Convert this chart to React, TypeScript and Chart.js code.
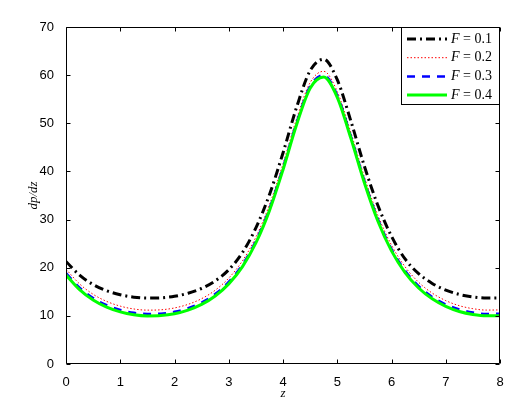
import React, { useEffect, useRef } from "react";
import { Chart, registerables } from "chart.js";
Chart.register(...registerables);

// z positions
const zValues = [0, 0.25, 0.5, 0.75, 1, 1.25, 1.5, 1.75, 2, 2.25, 2.5, 2.75, 3, 3.25, 3.5, 3.75, 4, 4.25, 4.5, 4.75, 5, 5.25, 5.5, 5.75, 6, 6.25, 6.5, 6.75, 7, 7.25, 7.5, 7.75, 8];

// dp/dz for each F
const fLabels = ["0.1", "0.2", "0.3", "0.4"];
const f01 = [21.3, 18.46, 16.51, 15.21, 14.38, 13.88, 13.69, 13.75, 14.06, 14.69, 15.71, 17.26, 19.57, 23.09, 28.27, 35.17, 43.84, 53.31, 60.94, 63.3, 59.05, 50.5, 41.09, 32.91, 26.54, 21.82, 18.77, 16.74, 15.36, 14.45, 13.93, 13.7, 13.72];
const f02 = [19.7, 16.64, 14.48, 13.0, 12.02, 11.43, 11.19, 11.26, 11.64, 12.39, 13.57, 15.32, 17.84, 21.39, 26.35, 33.06, 41.56, 50.9, 58.46, 60.8, 56.59, 48.13, 38.85, 30.85, 24.69, 20.19, 16.98, 14.73, 13.17, 12.11, 11.49, 11.2, 11.23];
const f03 = [18.9, 15.84, 13.68, 12.2, 11.22, 10.63, 10.39, 10.46, 10.84, 11.59, 12.77, 14.52, 17.04, 20.59, 25.55, 32.26, 40.76, 50.1, 57.66, 60.0, 55.79, 47.33, 38.05, 30.05, 23.89, 19.39, 16.18, 13.93, 12.37, 11.31, 10.69, 10.4, 10.43];
const f04 = [18.5, 15.44, 13.28, 11.8, 10.82, 10.23, 9.99, 10.06, 10.44, 11.19, 12.37, 14.12, 16.64, 20.19, 25.15, 31.86, 40.36, 49.7, 57.26, 59.6, 55.39, 46.93, 37.65, 29.65, 23.49, 18.99, 15.78, 13.53, 11.97, 10.91, 10.29, 10.0, 10.03];

const xTicks = [0, 1, 2, 3, 4, 5, 6, 7, 8];
const yTicks = [0, 10, 20, 30, 40, 50, 60, 70];

const seriesValues = [f01, f02, f03, f04];
const seriesStyles = [
  { color: "#000000", width: 3, dash: [9, 4, 2, 4] },
  { color: "#ff0000", width: 1, dash: [1.5, 2] },
  { color: "#0000ff", width: 2.5, dash: [8, 7] },
  { color: "#00ff00", width: 3, dash: [] as number[] },
];

const framePlugin = {
  id: "frame",
  afterDatasetsDraw(chart: any) {
    const { ctx, chartArea: a, scales } = chart;
    ctx.save();
    ctx.strokeStyle = "#000";
    ctx.lineWidth = 1;
    ctx.setLineDash([]);
    const L = Math.round(a.left) + 0.5;
    const R = Math.round(a.right) - 0.5;
    const T = Math.round(a.top) + 0.5;
    const B = Math.round(a.bottom) - 0.5;
    ctx.beginPath();
    ctx.rect(L, T, R - L, B - T);
    const len = 4;
    xTicks.forEach((v) => {
      const px = Math.round(scales.x.getPixelForValue(v)) + 0.5;
      ctx.moveTo(px, B);
      ctx.lineTo(px, B - len);
      ctx.moveTo(px, T);
      ctx.lineTo(px, T + len);
    });
    yTicks.forEach((v) => {
      const py = Math.round(scales.y.getPixelForValue(v)) + 0.5;
      ctx.moveTo(L, py);
      ctx.lineTo(L + len, py);
      ctx.moveTo(R, py);
      ctx.lineTo(R - len, py);
    });
    ctx.stroke();
    ctx.restore();
  },
};

const legendPlugin = {
  id: "matlabLegend",
  afterDraw(chart: any) {
    const { ctx, chartArea: a } = chart;
    const boxW = 99;
    const boxH = 78;
    const left = Math.round(a.right) - boxW;
    const top = Math.round(a.top);
    ctx.save();
    ctx.fillStyle = "#fff";
    ctx.fillRect(left, top, boxW, boxH);
    ctx.strokeStyle = "#000";
    ctx.lineWidth = 1;
    ctx.setLineDash([]);
    ctx.strokeRect(left + 0.5, top + 0.5, boxW - 1, boxH - 1);
    chart.data.datasets.forEach((ds: any, i: number) => {
      const y = top + 12 + i * 18.7;
      ctx.save();
      ctx.strokeStyle = ds.borderColor;
      ctx.lineWidth = ds.borderWidth;
      ctx.setLineDash(ds.borderDash || []);
      ctx.beginPath();
      ctx.moveTo(left + 6, y);
      ctx.lineTo(left + 46, y);
      ctx.stroke();
      ctx.restore();
      ctx.fillStyle = "#000";
      ctx.textBaseline = "middle";
      ctx.textAlign = "left";
      ctx.font = "italic 14px 'Liberation Serif'";
      const x0 = left + 50;
      ctx.fillText("F", x0, y);
      const fw = ctx.measureText("F").width;
      ctx.font = "14px 'Liberation Serif'";
      ctx.fillText(" = " + fLabels[i], x0 + fw, y);
    });
    ctx.restore();
  },
};

export default function App() {
  const ref = useRef<HTMLCanvasElement | null>(null);
  useEffect(() => {
    if (!ref.current) return;
    const chart = new Chart(ref.current, {
      type: "line",
      data: {
        datasets: seriesValues.map((vals, i) => ({
          label: "F = " + fLabels[i],
          data: zValues.map((z, j) => ({ x: z, y: vals[j] })),
          borderColor: seriesStyles[i].color,
          backgroundColor: seriesStyles[i].color,
          borderWidth: seriesStyles[i].width,
          borderDash: seriesStyles[i].dash,
          pointRadius: 0,
          fill: false,
          cubicInterpolationMode: "monotone" as const,
          order: 3 - i,
        })),
      },
      options: {
        responsive: false,
        devicePixelRatio: 1,
        animation: false,
        layout: { padding: { left: 0, top: 27, right: 26, bottom: 0 } },
        plugins: { legend: { display: false }, tooltip: { enabled: false } },
        scales: {
          x: {
            type: "linear",
            min: 0,
            max: 8,
            grid: { display: false },
            border: { display: false },
            ticks: {
              stepSize: 1,
              color: "#000",
              padding: 3,
              font: { family: "'Liberation Sans'", size: 13 },
            },
            title: {
              display: true,
              text: "z",
              color: "#000",
              font: { family: "'Liberation Serif'", size: 13, style: "italic" },
              padding: { top: 0, bottom: 10 },
            },
            afterFit: (s: any) => {
              s.height = 47;
            },
          },
          y: {
            type: "linear",
            min: 0,
            max: 70,
            grid: { display: false },
            border: { display: false },
            ticks: {
              stepSize: 10,
              color: "#000",
              padding: 4,
              font: { family: "'Liberation Sans'", size: 13 },
            },
            title: {
              display: true,
              text: "dp/dz",
              color: "#000",
              font: { family: "'Liberation Serif'", size: 13, style: "italic" },
              padding: { top: 26, bottom: 0 },
            },
            afterFit: (s: any) => {
              s.width = 66;
            },
          },
        },
      },
      plugins: [framePlugin, legendPlugin],
    });
    return () => chart.destroy();
  }, []);
  return (
    <div style={{ position: "absolute", left: 0, top: 0, width: 526, height: 411, background: "#fff" }}>
      <canvas ref={ref} width={526} height={411} style={{ display: "block" }} />
    </div>
  );
}
